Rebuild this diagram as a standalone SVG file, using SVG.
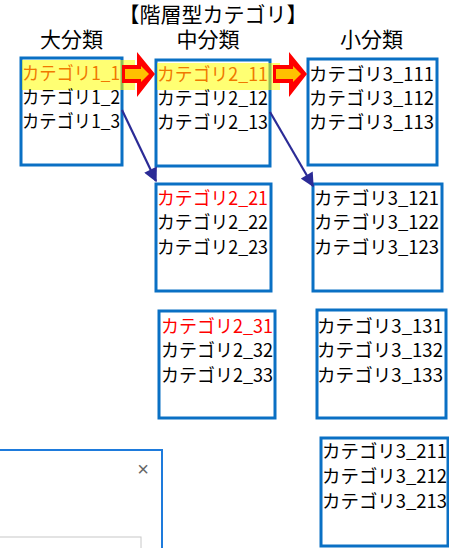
<svg xmlns="http://www.w3.org/2000/svg" width="449" height="548" viewBox="0 0 449 548">
<style>
.t{font-family:"Noto Sans CJK JP","Noto Sans",sans-serif;font-size:18px;fill:#000}
.h{font-family:"Noto Sans CJK JP","Noto Sans",sans-serif;font-size:21px;fill:#000;text-anchor:middle}
.box{fill:#fff;stroke:#0A70C4;stroke-width:3}
.hl{fill:#FFFF00;opacity:0.55}
.or{fill:#F07800}
.rd{fill:#FF0000}
.ra{fill:#FF0000}
.ri{fill:#FFC000}
.bl{stroke:#2B2B96;stroke-width:2.2;fill:none}
</style>
<defs>
<marker id="ah2" viewBox="0 0 10 10" refX="9" refY="5" markerWidth="16" markerHeight="14" markerUnits="userSpaceOnUse" orient="auto">
<path d="M0,0 L10,5 L0,10 z" fill="#2B2B96"/>
</marker>
</defs>
<rect width="449" height="548" fill="#fff"/>
<g id="title">
<text class="h" x="213" y="22" font-size="17.5">【階層型カテゴリ】</text>
</g>
<g id="headers">
<text class="h" x="71.5" y="47">大分類</text>
<text class="h" x="208" y="47">中分類</text>
<text class="h" x="371.5" y="47">小分類</text>
</g>
<g id="box1">
<rect class="box" x="21" y="58" width="101" height="107"/>
<rect class="hl" x="22" y="60" width="113" height="30"/>
<text class="t or" x="22" y="80" textLength="98" lengthAdjust="spacingAndGlyphs">カテゴリ1_1</text>
<text class="t" x="22" y="104" textLength="98" lengthAdjust="spacingAndGlyphs">カテゴリ1_2</text>
<text class="t" x="22" y="128" textLength="98" lengthAdjust="spacingAndGlyphs">カテゴリ1_3</text>
</g>
<g id="box2">
<rect class="box" x="156" y="60" width="114" height="106"/>
<rect class="hl" x="157" y="63" width="123" height="27"/>
<text class="t or" x="157" y="81" textLength="111" lengthAdjust="spacingAndGlyphs">カテゴリ2_11</text>
<text class="t" x="157" y="105" textLength="111" lengthAdjust="spacingAndGlyphs">カテゴリ2_12</text>
<text class="t" x="157" y="129" textLength="111" lengthAdjust="spacingAndGlyphs">カテゴリ2_13</text>
</g>
<g id="box3">
<rect class="box" x="308" y="59" width="129" height="106"/>
<text class="t" x="309" y="81" textLength="125" lengthAdjust="spacingAndGlyphs">カテゴリ3_111</text>
<text class="t" x="309" y="105" textLength="125" lengthAdjust="spacingAndGlyphs">カテゴリ3_112</text>
<text class="t" x="309" y="129" textLength="125" lengthAdjust="spacingAndGlyphs">カテゴリ3_113</text>
</g>
<g id="box4">
<rect class="box" x="156" y="184" width="115" height="107"/>
<text class="t rd" x="157" y="205" textLength="111" lengthAdjust="spacingAndGlyphs">カテゴリ2_21</text>
<text class="t" x="157" y="229" textLength="111" lengthAdjust="spacingAndGlyphs">カテゴリ2_22</text>
<text class="t" x="157" y="254" textLength="111" lengthAdjust="spacingAndGlyphs">カテゴリ2_23</text>
</g>
<g id="box5">
<rect class="box" x="313" y="184" width="129" height="107"/>
<text class="t" x="314" y="205" textLength="125" lengthAdjust="spacingAndGlyphs">カテゴリ3_121</text>
<text class="t" x="314" y="229" textLength="125" lengthAdjust="spacingAndGlyphs">カテゴリ3_122</text>
<text class="t" x="314" y="254" textLength="125" lengthAdjust="spacingAndGlyphs">カテゴリ3_123</text>
</g>
<g id="box6">
<rect class="box" x="159" y="311" width="116" height="107"/>
<text class="t rd" x="161" y="333" textLength="112" lengthAdjust="spacingAndGlyphs">カテゴリ2_31</text>
<text class="t" x="161" y="357" textLength="112" lengthAdjust="spacingAndGlyphs">カテゴリ2_32</text>
<text class="t" x="161" y="382" textLength="112" lengthAdjust="spacingAndGlyphs">カテゴリ2_33</text>
</g>
<g id="box7">
<rect class="box" x="317" y="310" width="129" height="108"/>
<text class="t" x="317" y="333" textLength="126" lengthAdjust="spacingAndGlyphs">カテゴリ3_131</text>
<text class="t" x="317" y="357" textLength="126" lengthAdjust="spacingAndGlyphs">カテゴリ3_132</text>
<text class="t" x="317" y="382" textLength="126" lengthAdjust="spacingAndGlyphs">カテゴリ3_133</text>
</g>
<g id="box8">
<rect class="box" x="321" y="438" width="127" height="108"/>
<text class="t" x="322" y="458" textLength="125" lengthAdjust="spacingAndGlyphs">カテゴリ3_211</text>
<text class="t" x="322" y="483" textLength="125" lengthAdjust="spacingAndGlyphs">カテゴリ3_212</text>
<text class="t" x="322" y="508" textLength="125" lengthAdjust="spacingAndGlyphs">カテゴリ3_213</text>
</g>
<g id="connectors">
<polygon class="ra" points="122,65 137,65 137,52 155,74 137,97 137,83 122,83"/>
<polygon class="ri" points="125,69 141,69 141,66 149,74 141,82 141,79 125,79"/>
<polygon class="ra" points="273,65 289,65 289,52 307,74 289,97 289,83 273,83"/>
<polygon class="ri" points="276,69 293,69 293,66 301,74 293,82 293,79 276,79"/>
<line class="bl" x1="122" y1="110" x2="156" y2="181" marker-end="url(#ah2)"/>
<line class="bl" x1="270" y1="112" x2="313" y2="186" marker-end="url(#ah2)"/>
</g>
<g id="dialog">
<rect x="-2" y="450" width="164" height="110" fill="#fff" stroke="#1E7BDC" stroke-width="2"/>
<rect x="-2" y="537" width="143" height="20" fill="#fff" stroke="#C8C8C8" stroke-width="1"/>
<text x="143" y="476" font-family="'Liberation Sans',sans-serif" font-size="20" fill="#666" text-anchor="middle">×</text>
</g>
</svg>
